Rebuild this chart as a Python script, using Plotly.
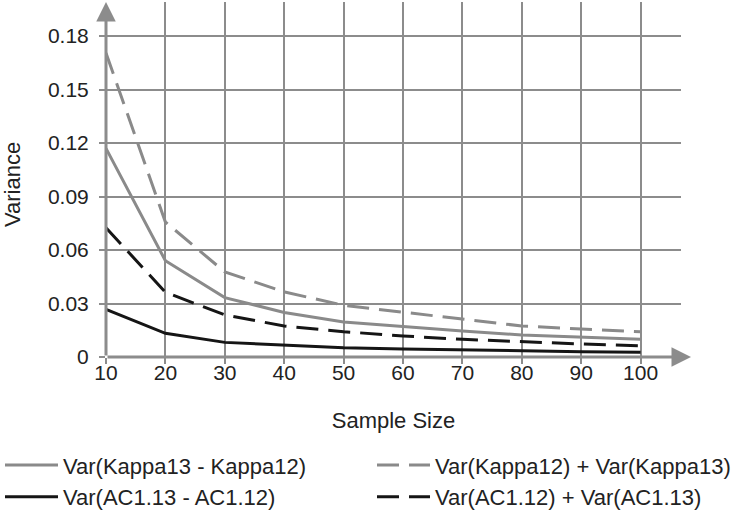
import plotly.graph_objects as go

sample_size = [10, 20, 30, 40, 50, 60, 70, 80, 90, 100]
var_kappa_diff = [0.117, 0.054, 0.0333, 0.025, 0.0196, 0.017, 0.0146, 0.0123, 0.011, 0.0099]
var_kappa_sum = [0.1705, 0.0757, 0.0477, 0.0365, 0.029, 0.025, 0.021, 0.0174, 0.0157, 0.0142]
var_ac1_diff = [0.0267, 0.0133, 0.0082, 0.0067, 0.0052, 0.0045, 0.0039, 0.0034, 0.003, 0.0026]
var_ac1_sum = [0.0725, 0.0363, 0.0236, 0.0174, 0.0142, 0.0118, 0.0099, 0.0084, 0.0073, 0.0063]

y_ticks = [0, 0.03, 0.06, 0.09, 0.12, 0.15, 0.18]
y_tick_labels = ["0", "0.03", "0.06", "0.09", "0.12", "0.15", "0.18"]

GRAY = "#8a8a8a"
BLACK = "#151515"
AX = "#8c8c8c"
FONT = "Liberation Sans, Arial, sans-serif"

fig = go.Figure()
fig.add_trace(go.Scatter(x=sample_size, y=var_kappa_diff, mode="lines",
                         name="Var(Kappa13 - Kappa12)", legend="legend",
                         line=dict(color=GRAY, width=3)))
fig.add_trace(go.Scatter(x=sample_size, y=var_kappa_sum, mode="lines",
                         name="Var(Kappa12) + Var(Kappa13)", legend="legend2",
                         line=dict(color=GRAY, width=3, dash="22px,10px")))
fig.add_trace(go.Scatter(x=sample_size, y=var_ac1_diff, mode="lines",
                         name="Var(AC1.13 - AC1.12)", legend="legend",
                         line=dict(color=BLACK, width=3)))
fig.add_trace(go.Scatter(x=sample_size, y=var_ac1_sum, mode="lines",
                         name="Var(AC1.12) + Var(AC1.13)", legend="legend2",
                         line=dict(color=BLACK, width=3, dash="22px,10px")))

L, R, T, B = 106, 53, 2, 156
W, H = 734, 513
plot_w = W - L - R
plot_h = H - T - B

x_max = 10 + plot_w / 59.4 * 10
y_max = 0.18 * plot_h / (357 - 36)

legend_common = dict(orientation="v", xref="container", yref="container",
                     y=0.134, xanchor="left", yanchor="top", itemwidth=53,
                     font=dict(family=FONT, size=22, color="#222222"),
                     bgcolor="rgba(0,0,0,0)", traceorder="normal")

fig.update_layout(
    width=W, height=H,
    margin=dict(l=L, r=R, t=T, b=B, pad=0, autoexpand=False),
    paper_bgcolor="white", plot_bgcolor="white",
    font=dict(family=FONT, size=21, color="#222222"),
    showlegend=True,
    legend=dict(x=0.0, **legend_common),
    legend2=dict(x=372 / W, **legend_common),
    xaxis=dict(range=[10, x_max], tickmode="array", tickvals=sample_size,
               ticktext=[str(v) for v in sample_size],
               showgrid=True, gridcolor=AX, gridwidth=1.6,
               zeroline=False, showline=False, automargin=False,
               ticks="outside", ticklen=6, tickwidth=2, tickcolor=AX,
               ticklabelstandoff=-9,
               tickfont=dict(size=21),
               title=dict(text="Sample Size", font=dict(size=22), standoff=29)),
    yaxis=dict(range=[0, y_max], tickmode="array", tickvals=y_ticks,
               ticktext=y_tick_labels,
               showgrid=True, gridcolor=AX, gridwidth=1.6,
               zeroline=False, showline=False, automargin=False,
               ticks="outside", ticklen=6, tickwidth=2, tickcolor=AX,
               ticklabelstandoff=6,
               tickfont=dict(size=21)),
)

# y-axis title
fig.add_annotation(xref="paper", yref="paper", x=(12 - L) / plot_w,
                   y=(357 - 185) / plot_h, text="Variance", textangle=-90,
                   showarrow=False, xanchor="center", yanchor="middle",
                   font=dict(family=FONT, size=22, color="#222222"))

# axis arrows
fig.add_annotation(xref="paper", yref="paper", x=0, y=1.0,
                   ax=0, ay=plot_h, showarrow=True, arrowhead=2,
                   arrowsize=1.3, arrowwidth=3, arrowcolor=AX, text="",
                   standoff=0, startstandoff=0)
fig.add_annotation(xref="paper", yref="paper", x=(691 - L) / plot_w, y=0,
                   ax=-(691 - L), ay=0, showarrow=True, arrowhead=2,
                   arrowsize=1.3, arrowwidth=3, arrowcolor=AX, text="",
                   standoff=0, startstandoff=0)

fig.write_html("out.html", config={"displayModeBar": False},
               post_script="document.body.style.margin='0';document.body.style.overflow='hidden';")
